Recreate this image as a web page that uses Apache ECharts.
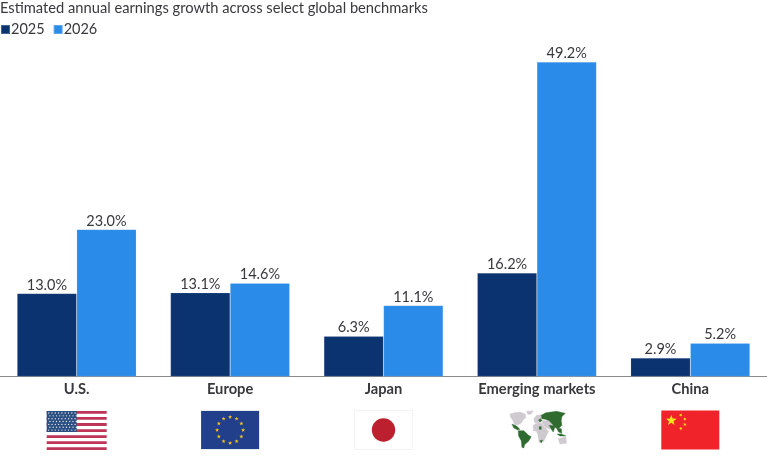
<!DOCTYPE html>
<html><head><meta charset="utf-8">
<style>html,body{margin:0;padding:0;background:#fff}#c{width:767px;height:465px}</style>
<script src="https://cdn.jsdelivr.net/npm/echarts@6/dist/echarts.min.js"></script>
</head><body><div id="c"></div>
<script>
const titleText = 'Estimated annual earnings growth across select global benchmarks';
const categories = ['U.S.', 'Europe', 'Japan', 'Emerging markets', 'China'];
const seriesNames = ['2025', '2026'];
const values2025 = [13.0, 13.1, 6.3, 16.2, 2.9];
const values2026 = [23.0, 14.6, 11.1, 49.2, 5.2];

const FONT = 'Lato, "Open Sans", sans-serif';
const INK = '#38383d';
const NAVY = '#0b3370';
const BLUE = '#2b8be8';

const chart = echarts.init(document.getElementById('c'), null, {renderer: 'canvas'});

function rect(x, y, w, h, fill) {
  return {type: 'rect', shape: {x, y, width: w, height: h}, style: {fill}};
}
function starPoints(cx, cy, r, rot) {
  const pts = [];
  for (let i = 0; i < 10; i++) {
    const a = rot - Math.PI / 2 + i * Math.PI / 5;
    const q = i % 2 ? r * 0.42 : r;
    pts.push([cx + q * Math.cos(a), cy + q * Math.sin(a)]);
  }
  return pts;
}
function star(cx, cy, r, fill, rot) {
  return {type: 'polygon', shape: {points: starPoints(cx, cy, r, rot || 0)}, style: {fill}};
}
// Outlines are sketched on a 3x grid whose centre is (591, 180).
function land(points, fill) {
  return {
    type: 'polygon',
    shape: {points: points.map(p => [(p[0] - 591) / 3, (p[1] - 180) / 3])},
    style: {fill, stroke: fill, lineWidth: 0.4}
  };
}

// Each emblem is drawn about its own centre, so it can sit under its category.
function usFlag() {
  const out = [rect(-30, -19, 60, 38, '#ffffff')];
  for (let i = 0; i < 7; i++) out.push(rect(-30, -19 + i * 6.05, 60, 2.8, '#bf3558'));
  out.push(rect(-30, -19, 30, 21, '#2a4f80'));
  for (let r = 0; r < 7; r++) for (let c = 0; c < 9; c++) {
    out.push({type: 'circle', shape: {cx: -28 + c * 3.3 + (r % 2 ? 1.2 : 0), cy: -17 + r * 2.85, r: 0.7}, style: {fill: '#dfe5ee'}});
  }
  return out;
}
function euFlag() {
  const out = [rect(-29, -19.5, 58, 39, '#ced6e6'), rect(-29, -19, 58, 38, '#223f8c')];
  for (let i = 0; i < 12; i++) {
    const a = i * Math.PI / 6;
    out.push(star(13 * Math.sin(a), -13 * Math.cos(a), 2.1, '#f5c518'));
  }
  return out;
}
function jpFlag() {
  return [
    rect(-29, -19.5, 58, 39, '#e8e8ea'),
    rect(-28.5, -19, 57, 38, '#ffffff'),
    {type: 'circle', shape: {cx: 0, cy: 0, r: 11.7}, style: {fill: '#bc202e'}}
  ];
}
function emMap() {
  const grey = '#cfc9d0', green = '#2f6b2f';
  return [
    land([[510,132],[524,128],[540,126],[556,132],[558,142],[548,152],[544,160],[534,164],[524,164],[518,150],[512,142]], grey),
    land([[560,124],[580,122],[574,132],[564,134]], grey),
    land([[516,162],[530,168],[540,178],[534,180],[522,174]], green),
    land([[535,182],[552,182],[566,196],[574,200],[566,214],[554,224],[552,234],[546,232],[544,212],[536,198]], green),
    land([[582,146],[590,136],[606,134],[606,150],[600,158],[584,158]], grey),
    land([[580,166],[590,160],[606,160],[614,172],[626,184],[618,200],[612,214],[598,218],[594,196],[590,184],[580,182]], grey),
    land([[606,152],[628,152],[640,168],[628,178],[616,172],[608,160]], grey),
    land([[604,136],[618,128],[634,126],[650,124],[676,130],[666,140],[664,152],[666,166],[656,176],[644,172],[640,166],[628,152],[616,148],[606,146]], green),
    land([[628,166],[646,168],[640,186],[634,178]], green),
    land([[650,174],[664,176],[666,190],[656,186]], green),
    land([[652,192],[664,192],[678,198],[660,198]], green),
    land([[596,150],[602,146],[606,152],[600,156]], green),
    land([[598,170],[604,170],[604,178],[598,178]], green),
    land([[600,212],[608,210],[604,219]], green),
    land([[655,206],[678,200],[680,220],[660,222]], grey)
  ];
}
function cnFlag() {
  const out = [rect(-29, -19.5, 58, 39, '#f1232a')];
  out.push(star(-19, -9.5, 5.6, '#f8e21c', 0));
  [[-9.5, -15, 0.5], [-5.5, -11, 1], [-5.5, -5.5, 0.2], [-9.5, -1.5, 0.7]].forEach(s => out.push(star(s[0], s[1], 1.9, '#f8e21c', s[2])));
  return out;
}
const emblems = [usFlag, euFlag, jpFlag, emMap, cnFlag];

function barSeries(name, data, color) {
  return {
    name, type: 'bar', data, barWidth: 59.6, barGap: 0,
    itemStyle: {color, borderColor: 'rgba(255,255,255,0.25)', borderWidth: 0.5},
    label: {show: true, position: 'top', distance: 1, formatter: p => p.value.toFixed(1) + '%', color: INK, fontFamily: FONT, fontSize: 14.5}
  };
}

chart.setOption({
  animation: false,
  backgroundColor: '#fff',
  title: {text: titleText, left: 0, top: 1, padding: 0, textStyle: {color: INK, fontFamily: FONT, fontSize: 14.7, fontWeight: 400}},
  legend: {
    left: 0, top: 22, padding: 0, itemWidth: 9, itemHeight: 9, itemGap: 8, icon: 'rect',
    data: seriesNames,
    textStyle: {color: INK, fontFamily: FONT, fontSize: 14.5, padding: [0, 0, 0, -4]}
  },
  grid: {left: 0, right: 0, top: 25, bottom: 88.5},
  xAxis: {
    type: 'category', data: categories, axisTick: {show: false},
    axisLine: {lineStyle: {color: '#8a8a8a', width: 1}},
    axisLabel: {color: INK, fontFamily: FONT, fontSize: 14.7, fontWeight: 700, margin: 5}
  },
  yAxis: {type: 'value', min: 0, max: 55, show: false},
  series: [barSeries(seriesNames[0], values2025, NAVY), barSeries(seriesNames[1], values2026, BLUE)]
});

// Emblems follow the category positions on the x axis.
chart.setOption({
  graphic: categories.map((c, i) => ({
    type: 'group',
    x: chart.convertToPixel({xAxisIndex: 0}, c),
    y: 430,
    children: emblems[i]()
  }))
});
</script></body></html>
